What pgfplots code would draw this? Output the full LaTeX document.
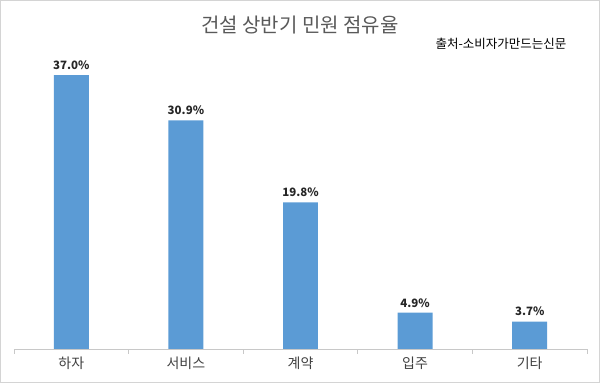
\documentclass[border=0pt]{standalone}
\usepackage{pgfplots}
\pgfplotsset{compat=1.18}
\usepackage{fontspec}
\setmainfont{Noto Sans CJK KR}
\definecolor{barblue}{HTML}{5B9BD5}
\definecolor{axgray}{HTML}{C8C8C8}
\definecolor{titlegray}{HTML}{595959}
\definecolor{labgray}{HTML}{404040}
\definecolor{frame}{HTML}{D4D4D4}
\begin{document}
\begin{tikzpicture}[x=1pt,y=1pt]
\draw[frame, line width=1pt] (0.5,0.5) rectangle (599.5,382.5);
\node[text=titlegray, font=\fontsize{20}{24}\selectfont] at (300,358) {건설 상반기 민원 점유율};
\node[text=black, font=\fontsize{12.5}{15}\selectfont] at (501,339) {출처-소비자가만드는신문};
\begin{axis}[
  at={(14pt,34pt)}, anchor=south west,
  scale only axis, width=573pt, height=296pt,
  xmin=-0.5, xmax=4.5, ymin=0, ymax=40,
  axis x line*=bottom, hide y axis,
  axis line style={axgray, line width=0.8pt},
  xtick={0,1,2,3,4},
  xticklabels={하자,서비스,계약,입주,기타},
  major tick length=0pt,
  minor xtick={-0.5,0.5,1.5,2.5,3.5,4.5},
  minor tick length=5pt,
  tick align=outside,
  every tick/.style={axgray, line width=0.8pt},
  xticklabel style={text=labgray, font=\fontsize{14}{16}\selectfont, yshift=-4pt},
  ybar, bar width=0.305,
  /pgf/number format/assume math mode=true,
  nodes near coords={\pgfmathprintnumber[fixed,fixed zerofill,precision=1,assume math mode=true]{\pgfplotspointmeta}\%},
  every node near coord/.append style={font=\bfseries\fontsize{11.5}{13}\selectfont, text=black!85, yshift=2pt},
  clip=false,
]
\addplot[fill=barblue, draw=none] coordinates {(0,37.0) (1,30.9) (2,19.8) (3,4.9) (4,3.7)};
\end{axis}
\end{tikzpicture}
\end{document}
